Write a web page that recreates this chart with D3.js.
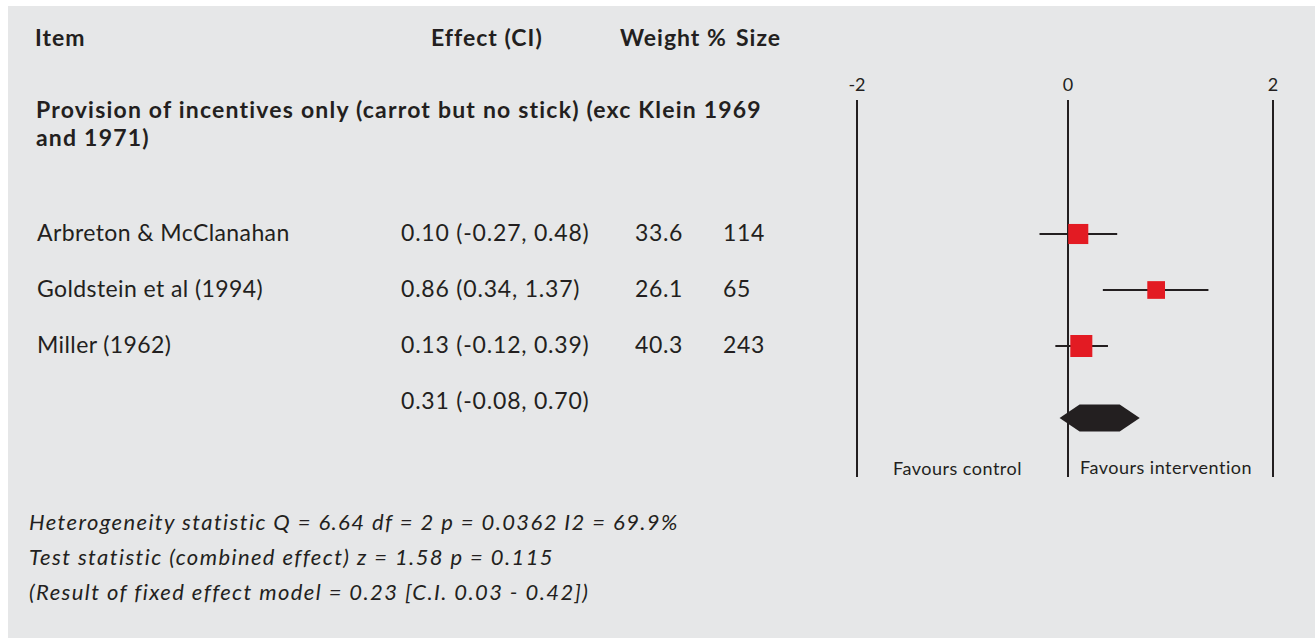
<!DOCTYPE html>
<html>
<head>
<meta charset="utf-8">
<script src="https://cdn.jsdelivr.net/npm/d3@7"></script>
<style>
  html, body { margin: 0; padding: 0; background: #ffffff; }
  svg { display: block; }
  text { font-family: Lato, "Open Sans", sans-serif; fill: #231f20; }
</style>
</head>
<body>
<svg id="chart" width="1315" height="639"></svg>
<script>
// Study rows
const studies = ["Arbreton & McClanahan", "Goldstein et al (1994)", "Miller (1962)"];
const effects = [0.10, 0.86, 0.13];
const lowerCI = [-0.27, 0.34, -0.12];
const upperCI = [0.48, 1.37, 0.39];
const weights = [33.6, 26.1, 40.3];
const sizes = [114, 65, 243];

// Pooled (random effects) estimate
const pooledEffect = 0.31;
const pooledCI = [-0.08, 0.70];

// Axis
const axisTicks = [-2, 0, 2];
const sideLabels = ["Favours control", "Favours intervention"];

// Text
const headers = ["Item", "Effect (CI)", "Weight %", "Size"];
const groupTitle = ["Provision of incentives only (carrot but no stick) (exc Klein 1969", "and 1971)"];
const footnotes = [
  "Heterogeneity statistic Q = 6.64 df = 2 p = 0.0362 I2 = 69.9%",
  "Test statistic (combined effect) z = 1.58 p = 0.115",
  "(Result of fixed effect model = 0.23 [C.I. 0.03 - 0.42])"
];

const ink = "#231f20";
const svg = d3.select("#chart");

// panel background
svg.append("rect")
  .attr("x", 8).attr("y", 6)
  .attr("width", 1307).attr("height", 632)
  .attr("fill", "#e6e7e8");

const fmt = d3.formatLocale({decimal: ".", thousands: ",", grouping: [3], currency: ["", ""], minus: "-"}).format(".2f");
const ciText = (e, l, u) => `${fmt(e)} (${fmt(l)}, ${fmt(u)})`;

// effect-size scale
const x = d3.scaleLinear().domain([-2, 0, 2]).range([857, 1068, 1273]);

// row positions
const rowKeys = studies.concat(["pooled"]);
const y = d3.scalePoint().domain(rowKeys).range([234, 402]);

// column headers
const headerX = [35, 431, 620, 736];
svg.append("g").selectAll("text").data(headers).join("text")
  .attr("x", (d, i) => headerX[i]).attr("y", 46)
  .attr("font-size", 23).attr("font-weight", "bold")
  .attr("letter-spacing", 1)
  .text(d => d);

// group title
svg.append("g").selectAll("text").data(groupTitle).join("text")
  .attr("x", 36).attr("y", (d, i) => 118 + i * 28)
  .attr("font-size", 23).attr("font-weight", "bold")
  .attr("letter-spacing", 1.2)
  .text(d => d);

// table rows
const rows = svg.append("g").attr("font-size", 23).attr("letter-spacing", 0.6);
rows.selectAll("text.name").data(studies).join("text")
  .attr("class", "name")
  .attr("x", 37).attr("y", d => y(d) + 7)
  .attr("letter-spacing", 0.4)
  .text(d => d);
rows.selectAll("text.eff").data(studies).join("text")
  .attr("class", "eff")
  .attr("x", 401).attr("y", d => y(d) + 7)
  .attr("letter-spacing", 0.8)
  .text((d, i) => ciText(effects[i], lowerCI[i], upperCI[i]));
rows.selectAll("text.w").data(studies).join("text")
  .attr("class", "w")
  .attr("x", 635).attr("y", d => y(d) + 7)
  .text((d, i) => weights[i].toFixed(1));
rows.selectAll("text.n").data(studies).join("text")
  .attr("class", "n")
  .attr("x", 723).attr("y", d => y(d) + 7)
  .text((d, i) => sizes[i]);
rows.append("text")
  .attr("x", 401).attr("y", y("pooled") + 7)
  .attr("letter-spacing", 0.8)
  .text(ciText(pooledEffect, pooledCI[0], pooledCI[1]));

// vertical reference lines and tick labels
const plot = svg.append("g");
plot.selectAll("line.ref").data(axisTicks).join("line")
  .attr("class", "ref")
  .attr("x1", d => x(d)).attr("x2", d => x(d))
  .attr("y1", 100).attr("y2", 477)
  .attr("stroke", ink).attr("stroke-width", 2);
plot.selectAll("text.tick").data(axisTicks).join("text")
  .attr("class", "tick")
  .attr("x", d => x(d)).attr("y", 91)
  .attr("text-anchor", "middle").attr("font-size", 18)
  .text(d => d);

// side labels
plot.append("text")
  .attr("x", 893).attr("y", 475)
  .attr("font-size", 18).attr("letter-spacing", 0.5)
  .text(sideLabels[0]);
plot.append("text")
  .attr("x", x(0) + 12).attr("y", 474)
  .attr("font-size", 18).attr("letter-spacing", 0.5)
  .text(sideLabels[1]);

// confidence intervals
plot.selectAll("line.ci").data(studies).join("line")
  .attr("class", "ci")
  .attr("x1", (d, i) => x(lowerCI[i])).attr("x2", (d, i) => x(upperCI[i]))
  .attr("y1", d => y(d)).attr("y2", d => y(d))
  .attr("stroke", ink).attr("stroke-width", 2);

// weighted point estimates
const side = d3.scaleSqrt().domain([0, d3.max(weights)]).range([0, 22]);
plot.selectAll("rect.pt").data(studies).join("rect")
  .attr("class", "pt")
  .attr("x", (d, i) => x(effects[i]) - side(weights[i]) / 2)
  .attr("y", (d, i) => y(d) - side(weights[i]) / 2)
  .attr("width", (d, i) => side(weights[i]))
  .attr("height", (d, i) => side(weights[i]))
  .attr("fill", "#e31b23");

// pooled estimate hexagon
const dy = y("pooled") + 16, hh = 13.5;
const lo = x(pooledCI[0]), hi = x(pooledCI[1]), inset = (hi - lo) * 0.25;
plot.append("path")
  .attr("d", d3.line()([
    [lo, dy], [lo + inset, dy - hh], [hi - inset, dy - hh],
    [hi, dy], [hi - inset, dy + hh], [lo + inset, dy + hh]
  ]) + "Z")
  .attr("fill", ink);

// footnotes
svg.append("g").selectAll("text").data(footnotes).join("text")
  .attr("x", 29).attr("y", (d, i) => 530 + i * 35)
  .attr("font-size", 22).attr("font-style", "italic")
  .attr("letter-spacing", 1.4)
  .text(d => d);
</script>
</body>
</html>
